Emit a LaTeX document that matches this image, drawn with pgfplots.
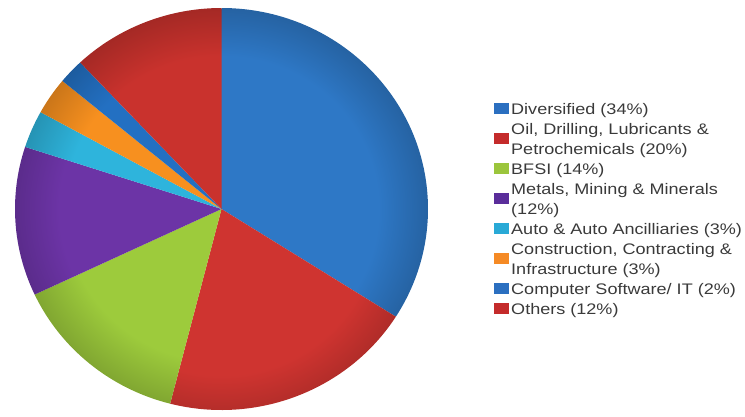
\documentclass[border=0pt]{standalone}
\usepackage{pgfplots}
\pgfplotsset{compat=1.18}
\usepackage{pgfplotstable}
\usepackage{fontspec}
\setmainfont{Liberation Sans}
\newfontfamily\legfont[FakeStretch=1.18]{Liberation Sans}

% slice colours
\definecolor{sA}{HTML}{2E78C6}
\definecolor{sB}{HTML}{CF3430}
\definecolor{sC}{HTML}{9DCB3C}
\definecolor{sD}{HTML}{6C34A6}
\definecolor{sE}{HTML}{2EB4DC}
\definecolor{sF}{HTML}{F7901F}
\definecolor{sG}{HTML}{2370C2}
\definecolor{sH}{HTML}{C9322D}
% legend colours
\definecolor{lA}{HTML}{2B6FC0}
\definecolor{lB}{HTML}{C42B2B}
\definecolor{lC}{HTML}{9BC53C}
\definecolor{lD}{HTML}{5A2D9A}
\definecolor{lE}{HTML}{29A9D6}
\definecolor{lF}{HTML}{F58A25}
\definecolor{lG}{HTML}{2B6FC0}
\definecolor{lH}{HTML}{C42B2B}
\definecolor{txt}{HTML}{3A3A3A}

\colorlet{pieIn}{black}
\colorlet{pieOut}{black}
\pgfdeclareradialshading[pieIn,pieOut]{pieshade}{\pgfpointorigin}{%
  color(0bp)=(pieIn); color(19bp)=(pieIn); color(25bp)=(pieOut); color(50bp)=(pieOut)}

\pgfplotstableread{
share col
34 sA
20 sB
14 sC
12 sD
3  sE
3  sF
2  sG
12 sH
}\piedata

\def\pierx{206.5pt}
\def\piery{201pt}
\newcommand\pieslice[3]{%
  \shade[shading=pieshade,
    /utils/exec={\colorlet{pieIn}{#3}\colorlet{pieOut}{#3!82!black}}]
    (axis cs:0,0) -- (axis cs:{cos(#1)},{sin(#1)})
    arc[start angle=#1, end angle=#2, x radius=\pierx, y radius=\piery] -- cycle
    (axis cs:-1,-1) (axis cs:1,1);}

\newcommand\legfontsetup{\legfont\fontsize{15.3}{20}\selectfont}
% legend line: baseline index k
\newcommand\legline[2]{\node[anchor=base west, inner sep=0pt, font=\legfontsetup, text=txt]
  at (511pt,{301.7pt-20pt*#1}) {#2};}
% single-line square at line k
\newcommand\legsq[2]{\fill[#2] (494pt,{301.7pt-20pt*#1}) rectangle (509pt,{313pt-20pt*#1});}
% two-line square at lines k,k+1
\newcommand\legsqq[2]{\fill[#2] (494pt,{291.55pt-20pt*#1}) rectangle (509pt,{302.85pt-20pt*#1});}

\begin{document}
\begin{tikzpicture}
\useasboundingbox (0,0) rectangle (745pt,416pt);
% build slice commands from the table
\def\slicecmds{}
\def\cumangle{90}
\pgfplotstablegetrowsof{\piedata}
\pgfmathtruncatemacro\lastrow{\pgfplotsretval-1}
\pgfplotsforeachungrouped \i in {0,...,\lastrow}{%
  \pgfplotstablegetelem{\i}{share}\of\piedata\let\sh\pgfplotsretval
  \pgfplotstablegetelem{\i}{col}\of\piedata\let\cl\pgfplotsretval
  \pgfmathsetmacro\endangle{\cumangle-3.6*\sh}%
  \edef\slicecmds{\unexpanded\expandafter{\slicecmds}\noexpand\pieslice{\cumangle}{\endangle}{\cl}}%
  \let\cumangle\endangle
}
\begin{axis}[
  at={(15pt,6pt)}, anchor=south west,
  scale only axis, width=413pt, height=402pt,
  xmin=-1, xmax=1, ymin=-1, ymax=1,
  hide axis, clip=false,
]
\slicecmds
\end{axis}
% legend
\legsq{0}{lA}  \legline{0}{Diversified (34\%)}
\legsqq{1}{lB} \legline{1}{Oil, Drilling, Lubricants \&}
               \legline{2}{Petrochemicals (20\%)}
\legsq{3}{lC}  \legline{3}{BFSI (14\%)}
\legsqq{4}{lD} \legline{4}{Metals, Mining \& Minerals}
               \legline{5}{(12\%)}
\legsq{6}{lE}  \legline{6}{Auto \& Auto Ancilliaries (3\%)}
\legsqq{7}{lF} \legline{7}{Construction, Contracting \&}
               \legline{8}{Infrastructure (3\%)}
\legsq{9}{lG}  \legline{9}{Computer Software/ IT (2\%)}
\legsq{10}{lH} \legline{10}{Others (12\%)}
\end{tikzpicture}
\end{document}
